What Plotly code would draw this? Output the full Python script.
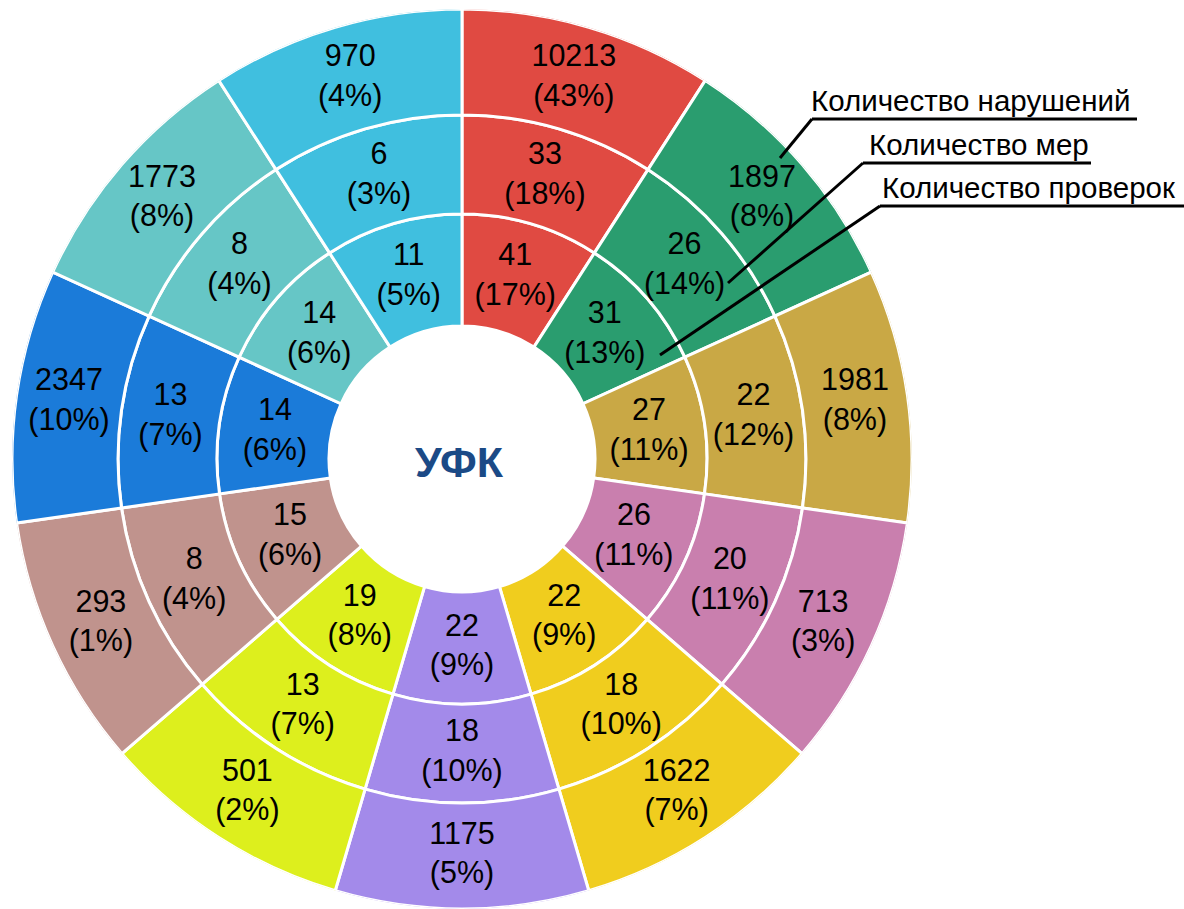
import plotly.graph_objects as go

# ---- data ----
categories = ["1", "2", "3", "4", "5", "6", "7", "8", "9", "10", "11"]
colors = ["#E04A42", "#2A9D6F", "#C9A845", "#C97FAE", "#F0CD1E", "#A38AEA",
          "#DDEF1D", "#C0938D", "#1B7BD9", "#66C6C6", "#40BFDF"]

checks = [41, 31, 27, 26, 22, 22, 19, 15, 14, 14, 11]          # Количество проверок
checks_pct = [17, 13, 11, 11, 9, 9, 8, 6, 6, 6, 5]
measures = [33, 26, 22, 20, 18, 18, 13, 8, 13, 8, 6]           # Количество мер
measures_pct = [18, 14, 12, 11, 10, 10, 7, 4, 7, 4, 3]
violations = [10213, 1897, 1981, 713, 1622, 1175, 501, 293, 2347, 1773, 970]  # Количество нарушений
violations_pct = [43, 8, 8, 3, 7, 5, 2, 1, 10, 8, 4]

ring_names = ["Количество нарушений", "Количество мер", "Количество проверок"]
center_label = "УФК"

# ---- layout geometry (pixels) ----
W, H = 1184, 909
cx, cy = 462, 459
R = [133, 245, 344, 450]          # ring boundaries: hole, inner, middle, outer
FONT = "Liberation Sans, Arial, sans-serif"
n = len(categories)


def labels(vals, pcts):
    return [f"{v}<br>({p}%)" for v, p in zip(vals, pcts)]


fig = go.Figure()
rings = [
    (checks, checks_pct, R[0], R[1]),
    (measures, measures_pct, R[1], R[2]),
    (violations, violations_pct, R[2], R[3]),
]
for vals, pcts, r_in, r_out in rings:
    fig.add_trace(go.Barpolar(
        theta=categories,
        r=[r_out - r_in] * n,
        base=[r_in] * n,
        marker=dict(color=colors, line=dict(color="white", width=3)),
        hoverinfo="skip",
        showlegend=False,
    ))
for vals, pcts, r_in, r_out in rings:
    fig.add_trace(go.Scatterpolar(
        theta=categories,
        r=[(r_in + r_out) / 2] * n,
        mode="text",
        text=labels(vals, pcts),
        textposition="middle center",
        textfont=dict(family=FONT, size=30.5, color="black"),
        hoverinfo="skip",
        showlegend=False,
    ))


def px(x):
    return x / W


def py(y):
    return 1 - y / H


shapes = []
annotations = []
leaders = [
    # (start point, elbow, end x, text x)
    ((780, 158), (812, 119), 1137, 810),
    ((728, 283), (863, 163), 1091, 868),
    ((660, 355), (880, 206), 1184, 881),
]
for name, (p0, p1, xend, tx) in zip(ring_names, leaders):
    shapes.append(dict(type="line", xref="paper", yref="paper",
                       x0=px(p0[0]), y0=py(p0[1]), x1=px(p1[0]), y1=py(p1[1]),
                       line=dict(color="black", width=3)))
    shapes.append(dict(type="line", xref="paper", yref="paper",
                       x0=px(p1[0]), y0=py(p1[1]), x1=px(xend), y1=py(p1[1]),
                       line=dict(color="black", width=3)))
    annotations.append(dict(text=name, xref="paper", yref="paper",
                            x=px(tx), y=py(p1[1] - 1), xanchor="left", yanchor="bottom",
                            showarrow=False, borderpad=0,
                            font=dict(family=FONT, size=29.5, color="black")))

annotations.append(dict(text=f"<b>{center_label}</b>", xref="paper", yref="paper",
                        x=px(460), y=py(462), xanchor="center", yanchor="middle",
                        showarrow=False,
                        font=dict(family=FONT, size=43, color="#1B4A86")))

fig.update_layout(
    width=W, height=H,
    margin=dict(l=0, r=0, t=0, b=0),
    paper_bgcolor="white", plot_bgcolor="white",
    polar=dict(
        domain=dict(x=[(cx - R[3]) / W, (cx + R[3]) / W],
                    y=[(H - cy - R[3]) / H, (H - cy + R[3]) / H]),
        bgcolor="rgba(0,0,0,0)",
        bargap=0,
        radialaxis=dict(visible=False, range=[0, R[3]]),
        angularaxis=dict(visible=False, type="category", categoryarray=categories,
                         rotation=90 - 180 / n, direction="clockwise"),
    ),
    shapes=shapes,
    annotations=annotations,
)

fig.write_html("out.html", config={"displayModeBar": False},
               post_script="document.body.style.margin='0';")
